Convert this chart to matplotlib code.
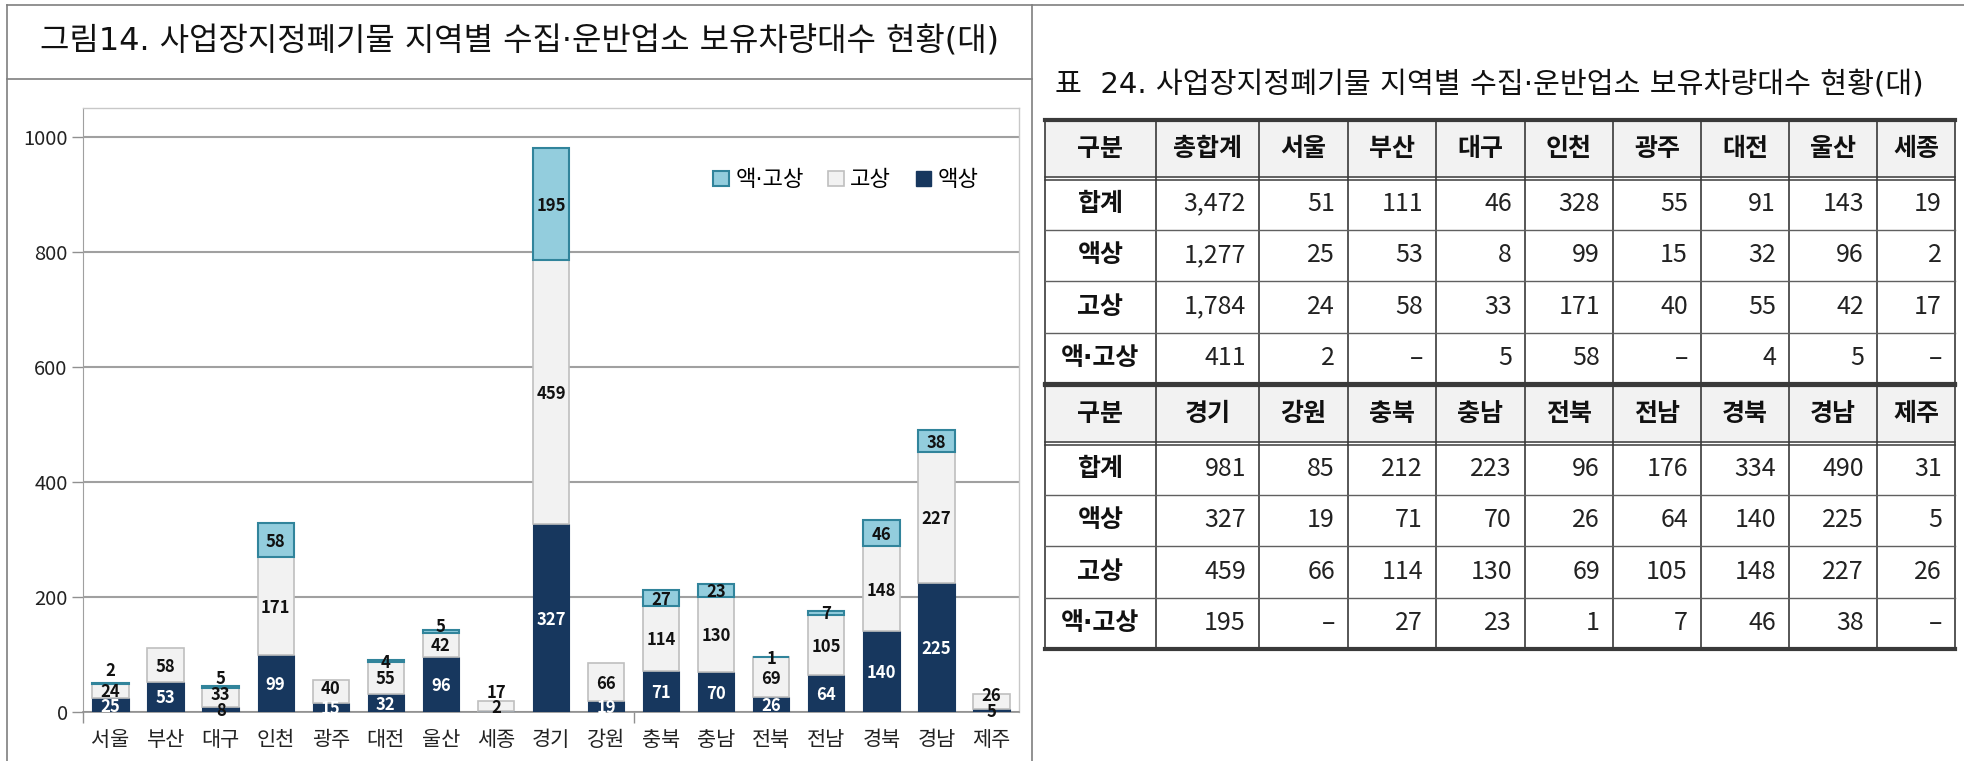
import matplotlib
matplotlib.use("Agg")
import matplotlib.pyplot as plt
import numpy as np
from matplotlib.patches import Rectangle

plt.rcParams['font.family'] = ['Noto Sans CJK KR', 'DejaVu Sans']
MIXF = ['DejaVu Sans', 'Noto Sans CJK KR']   # narrow middle dot, hangul from Noto

W, H = 1964, 761

# data
regions = ['서울', '부산', '대구', '인천', '광주', '대전', '울산', '세종', '경기',
           '강원', '충북', '충남', '전북', '전남', '경북', '경남', '제주']
liquid = [25, 53, 8, 99, 15, 32, 96, 2, 327, 19, 71, 70, 26, 64, 140, 225, 5]       # 액상
solid = [24, 58, 33, 171, 40, 55, 42, 17, 459, 66, 114, 130, 69, 105, 148, 227, 26]  # 고상
mixed = [2, 0, 5, 58, 0, 4, 5, 0, 195, 0, 27, 23, 1, 7, 46, 38, 0]                  # 액·고상
totals = [51, 111, 46, 328, 55, 91, 143, 19, 981, 85, 212, 223, 96, 176, 334, 490, 31]
grand = [3472, 1277, 1784, 411]   # 총합계: 합계, 액상, 고상, 액·고상
row_names = ['합계', '액상', '고상', '액·고상']
series_names = ['액·고상', '고상', '액상']

fig_title = '그림14. 사업장지정폐기물 지역별 수집·운반업소 보유차량대수 현황(대)'
tab_title = '표  24. 사업장지정폐기물 지역별 수집·운반업소 보유차량대수 현황(대)'

# label nudges (in data units) where the labels were moved off-centre
nudge = {('mixed', 0): 25, ('mixed', 2): 16, ('solid', 2): 8, ('solid', 4): 8,
         ('mixed', 6): 10, ('solid', 7): 25, ('liquid', 7): 9, ('solid', 16): 12}

C_LIQ, C_SOL, C_MIX = '#17375E', '#F2F2F2', '#93CDDD'
E_SOL, E_MIX = '#BFBFBF', '#31849B'

fig = plt.figure(figsize=(W / 100, H / 100), dpi=100)


def fx(p):
    return p / W


def fy(p):
    return 1 - p / H


# overlay axes in pixel units for frames and the table
bg = fig.add_axes([0, 0, 1, 1])
bg.set_xlim(0, W)
bg.set_ylim(H, 0)
bg.axis('off')

frame_c = '#7F7F7F'
bg.plot([7, W], [5, 5], color=frame_c, lw=1.2)
bg.plot([7, 7], [5, H], color=frame_c, lw=1.2)
bg.plot([1032, 1032], [5, H], color=frame_c, lw=1.2)
bg.plot([7, 1032], [79, 79], color=frame_c, lw=1.2)

fig.text(fx(520), fy(42), fig_title, ha='center', va='center', fontsize=23,
         family=MIXF, color='#111111')
fig.text(fx(1055), fy(85), tab_title, ha='left', va='center', fontsize=21,
         family=MIXF, color='#111111')

# ---------------- chart ----------------
ax = fig.add_axes([fx(83), fy(712), fx(1019) - fx(83), fy(108) - fy(712)])
x = np.arange(len(regions))
liq = np.array(liquid)
sol = np.array(solid)
mix = np.array(mixed)
bw = 0.66

ax.bar(x, liq, width=bw, color=C_LIQ, edgecolor=C_LIQ, lw=0.8, zorder=3)
ax.bar(x, sol, width=bw, bottom=liq, color=C_SOL, edgecolor=E_SOL, lw=1.2, zorder=3)
m = mix > 0
ax.bar(x[m], mix[m], width=bw, bottom=(liq + sol)[m], color=C_MIX, edgecolor=E_MIX,
       lw=1.5, zorder=3)

for name, vals, base in [('liquid', liq, np.zeros_like(liq)), ('solid', sol, liq),
                         ('mixed', mix, liq + sol)]:
    for i, v in enumerate(vals):
        if v == 0:
            continue
        yy = base[i] + v / 2 - 3 + nudge.get((name, i), 0)
        col = 'white' if (name == 'liquid' and v >= 10) else '#111111'
        ax.text(i, yy, str(v), ha='center', va='center', fontsize=12,
                fontweight='bold', color=col, zorder=5)

ax.set_xlim(-0.5, len(regions) - 0.5)
ax.set_ylim(0, 1050)
ax.set_yticks(range(0, 1001, 200))
ax.yaxis.grid(True, color='#A0A0A0', lw=1.5)
ax.set_axisbelow(True)
ax.set_xticks(x)
ax.set_xticklabels(regions)
ax.set_xticks([-0.5, 9.5], minor=True)
ax.tick_params(axis='x', which='major', length=0, pad=12, labelsize=15, labelcolor='#222222')
ax.tick_params(axis='x', which='minor', length=8, width=1, color='#909090', direction='out')
ax.tick_params(axis='y', length=8, width=1, color='#909090', labelsize=14.5,
               labelcolor='#222222', pad=3)
for s in ['top', 'right']:
    ax.spines[s].set_color('#C8C8C8')
    ax.spines[s].set_linewidth(1)
ax.spines['left'].set_color('#A0A0A0')
ax.spines['bottom'].set_color('#909090')
ax.spines['bottom'].set_linewidth(1.2)

handles = [Rectangle((0, 0), 1, 1, facecolor=C_MIX, edgecolor=E_MIX, lw=1.5),
           Rectangle((0, 0), 1, 1, facecolor=C_SOL, edgecolor=E_SOL, lw=1.2),
           Rectangle((0, 0), 1, 1, facecolor=C_LIQ, edgecolor=C_LIQ)]
ax.legend(handles, series_names, ncol=3, loc='center', bbox_to_anchor=(fx(846), fy(180)),
          bbox_transform=fig.transFigure, frameon=False,
          prop={'family': MIXF, 'size': 16},
          handlelength=0.7, handleheight=0.7, handletextpad=0.3, columnspacing=1.1)

# ---------------- table ----------------
col_edges = [1045, 1156, 1259, 1348, 1436, 1525, 1613, 1701, 1789, 1877, 1955]
sec_tops = [120, 385]
head_h = 58
row_h = 51.5
line_c = '#3A3A3A'

sections = [
    (['구분', '총합계'] + regions[:8],
     [[grand[0]] + totals[:8], [grand[1]] + liquid[:8], [grand[2]] + solid[:8],
      [grand[3]] + mixed[:8]]),
    (['구분'] + regions[8:],
     [totals[8:], liquid[8:], solid[8:], mixed[8:]]),
]

for top, (heads, rows) in zip(sec_tops, sections):
    bg.add_patch(Rectangle((col_edges[0], top), col_edges[-1] - col_edges[0], head_h,
                           facecolor='#F2F2F2', edgecolor='none', zorder=1))
    bottom = top + head_h + row_h * len(rows)
    for xe in col_edges:
        bg.plot([xe, xe], [top, bottom], color=line_c, lw=1.2, zorder=3)
    # header double line
    bg.plot([col_edges[0], col_edges[-1]], [top + head_h - 1.5] * 2, color=line_c, lw=1.1, zorder=3)
    bg.plot([col_edges[0], col_edges[-1]], [top + head_h + 1.5] * 2, color=line_c, lw=1.1, zorder=3)
    for j in range(len(heads)):
        cx = (col_edges[j] + col_edges[j + 1]) / 2
        bg.text(cx, top + head_h / 2, heads[j], ha='center', va='center', fontsize=18,
                fontweight='bold', color='#111111', zorder=4)
    for r, vals in enumerate(rows):
        cy = top + head_h + row_h * (r + 0.5)
        if r > 0:
            bg.plot([col_edges[0], col_edges[-1]], [top + head_h + row_h * r] * 2,
                    color='#606060', lw=1, zorder=3)
        bg.text((col_edges[0] + col_edges[1]) / 2, cy, row_names[r], ha='center', va='center',
                fontsize=18, fontweight='bold', family=MIXF, color='#111111', zorder=4)
        for j, v in enumerate(vals):
            txt = f'{v:,}' if v else '–'
            bg.text(col_edges[j + 2] - 13, cy, txt, ha='right', va='center', fontsize=18,
                    color='#222222', zorder=4)
    bg.plot([col_edges[0], col_edges[-1]], [top, top], color=line_c, lw=3, zorder=3)
    bg.plot([col_edges[0], col_edges[-1]], [bottom, bottom], color=line_c, lw=3, zorder=3)

fig.savefig('out.png', dpi=100)
